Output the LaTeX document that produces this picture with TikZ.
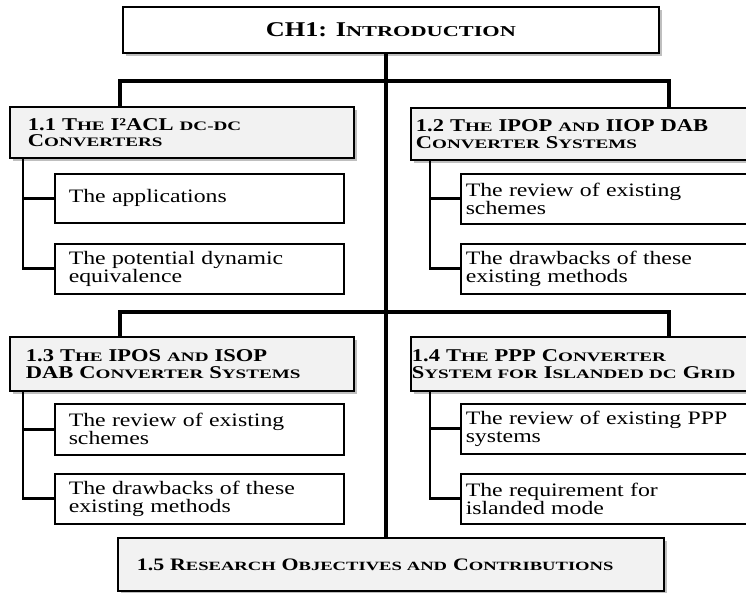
\documentclass[tikz,border=0pt]{standalone}
\usepackage{fontspec}
\setmainfont{Liberation Serif}[FakeStretch=1.25]
\usetikzlibrary{shadows}
\newcommand\sk[1]{\scalebox{0.85}[0.72]{#1}}
\definecolor{hdrfill}{HTML}{F2F2F2}
\lineskiplimit=-20pt\relax
\tikzset{
  base/.style={draw=black, anchor=north west, align=left, inner ysep=1pt},
  shad/.style={drop shadow={shadow xshift=3pt, shadow yshift=-3pt, fill=black!50}},
  hdr/.style={base, shad, line width=1.8pt, fill=hdrfill,
    font=\bfseries\fontsize{18}{16.5}\selectfont},
  subbox/.style={base, line width=1.5pt, fill=white,
    font=\fontsize{19}{18}\selectfont},
  bar/.style={line width=4pt},
  link/.style={line width=2.7pt}
}
\begin{document}
\begin{tikzpicture}[x={(1pt,0)}, y={(0,-1pt)}]
\useasboundingbox (0,0) rectangle (746,592);
\clip (0,0) rectangle (746,592);

% title
\node[base, shad, line width=1.8pt, fill=white, align=center,
  minimum width=536pt, minimum height=46pt,
  font=\bfseries\fontsize{21}{21}\selectfont] (ch1) at (122,6)
  {CH1: I\sk{NTRODUCTION}};

% headers
\node[hdr, minimum height=51pt, inner xsep=18pt, text width=308pt] (h11) at (9,106)
  {1.1 T\sk{HE} I²ACL \sk{DC-DC}\\C\sk{ONVERTERS}};
\node[hdr, minimum height=52pt, inner xsep=5pt, text width=390pt] (h12) at (410,107)
  {1.2 T\sk{HE} IPOP \sk{AND} IIOP DAB\\C\sk{ONVERTER} S\sk{YSTEMS}};
\node[hdr, minimum height=54pt, inner xsep=16pt, text width=312pt] (h13) at (9,336)
  {1.3 T\sk{HE} IPOS \sk{AND} ISOP\\DAB C\sk{ONVERTER} S\sk{YSTEMS}};
\node[hdr, minimum height=54pt, inner xsep=1pt, text width=398pt] (h14) at (410,336)
  {1.4 T\sk{HE} PPP C\sk{ONVERTER}\\S\sk{YSTEM FOR} I\sk{SLANDED DC} G\sk{RID}};
\node[hdr, minimum height=53pt, inner xsep=19pt, text width=508pt,
  font=\bfseries\fontsize{17.5}{17.5}\selectfont] (h15) at (117,537)
  {1.5 R\sk{ESEARCH} O\sk{BJECTIVES AND} C\sk{ONTRIBUTIONS}};

% sub boxes
\node[subbox, minimum height=49pt, inner xsep=14pt, text width=261pt] (s11a) at (54,173)
  {The applications};
\node[subbox, minimum height=50pt, inner xsep=14pt, text width=261pt] (s11b) at (54,243)
  {The potential dynamic\\equivalence};
\node[subbox, minimum height=50pt, inner xsep=5pt, text width=390pt] (s12a) at (460,173)
  {The review of existing\\schemes};
\node[subbox, minimum height=50pt, inner xsep=5pt, text width=390pt] (s12b) at (460,243)
  {The drawbacks of these\\existing methods};
\node[subbox, minimum height=51pt, inner xsep=14pt, text width=261pt] (s13a) at (54,403)
  {The review of existing\\schemes};
\node[subbox, minimum height=50pt, inner xsep=14pt, text width=261pt] (s13b) at (54,473)
  {The drawbacks of these\\existing methods};
\node[subbox, minimum height=50pt, inner xsep=5pt, text width=390pt] (s14a) at (460,403)
  {The review of existing PPP\\systems};
\node[subbox, minimum height=50pt, inner xsep=5pt, text width=390pt] (s14b) at (460,473)
  {The requirement for\\islanded mode};

% trunk
\coordinate (ttop) at ([xshift=-5pt]ch1.south);
\draw[bar] (ttop) -- (ttop |- h15.north);

% level bars
\coordinate (b1) at (385,81);
\coordinate (b2) at (385,312);
\draw[bar] ([xshift=111pt]h11.north west) |- (b1) -| ([xshift=259pt]h12.north west);
\draw[bar] ([xshift=111pt]h13.north west) |- (b2) -| ([xshift=259pt]h14.north west);

% sub connectors
\coordinate (c11) at ([xshift=14pt]h11.south west);
\coordinate (c12) at ([xshift=20pt]h12.south west);
\coordinate (c13) at ([xshift=14pt]h13.south west);
\coordinate (c14) at ([xshift=20pt]h14.south west);
\draw[link] (s11a.west) -| (c11);
\draw[link] (s11b.west) -| (c11);
\draw[link] (s12a.west) -| (c12);
\draw[link] (s12b.west) -| (c12);
\draw[link] (s13a.west) -| (c13);
\draw[link] (s13b.west) -| (c13);
\draw[link] (s14a.west) -| (c14);
\draw[link] (s14b.west) -| (c14);
\end{tikzpicture}
\end{document}
